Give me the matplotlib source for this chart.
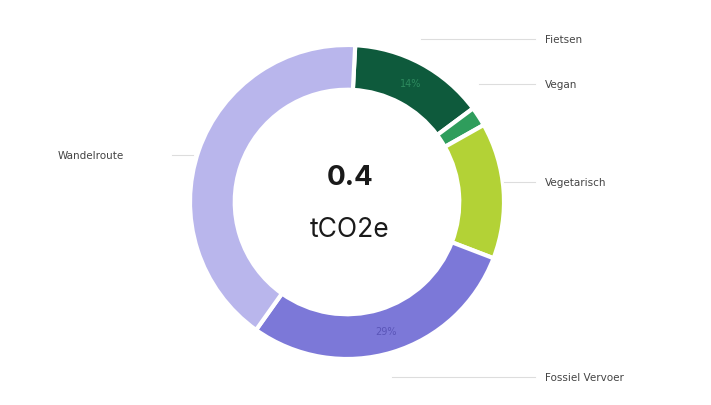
import matplotlib.pyplot as plt
import numpy as np

categories = ["Fietsen", "Vegan", "Vegetarisch", "Fossiel Vervoer", "Wandelroute"]
values = [14, 2, 14, 29, 41]
colors = ["#0e5a3c", "#2f9d5c", "#b3d236", "#7c78d8", "#b9b6ec"]
total_value = "0.4"
unit = "tCO2e"

fig = plt.figure(figsize=(7.11, 4.06), dpi=100)
ax = fig.add_axes([0, 0, 1, 1])

cx, cy, R = 347, 203, 157
wedges, _ = ax.pie(values, colors=colors, startangle=87, counterclock=False,
                   center=(cx, cy), radius=R, frame=True,
                   wedgeprops=dict(width=R * 0.285, edgecolor="white", linewidth=3))
ax.set_xlim(0, 711)
ax.set_ylim(0, 406)
ax.set_aspect("equal")
ax.axis("off")

def mid(w):
    return np.deg2rad((w.theta1 + w.theta2) / 2)

for i, col in [(0, "#2d8a5e"), (3, "#5a55b8")]:
    a = mid(wedges[i])
    r = R * 0.86
    ax.text(cx + r * np.cos(a), cy + r * np.sin(a), f"{values[i]}%",
            ha="center", va="center", fontsize=7, color=col)

label_pos = [(545, 366), (545, 321), (545, 223), (545, 28), (58, 250)]
for i, (lx, ly) in enumerate(label_pos):
    if lx > cx:
        a = mid(wedges[i])
        px = cx + R * np.cos(a)
        ax.plot([px, 535], [ly, ly], color="#dddddd", lw=0.8)
    else:
        ax.plot([172, 193], [ly, ly], color="#dddddd", lw=0.8)
    ax.text(lx, ly, categories[i], ha="left", va="center", fontsize=7.5, color="#444444")

ax.text(cx + 3, 228, total_value, ha="center", va="center", fontsize=20,
        fontweight="bold", color="#1a1a1a", family="Inter")
ax.text(cx + 3, 176, unit, ha="center", va="center", fontsize=19,
        color="#1a1a1a", family="Inter")

fig.savefig("out.png", dpi=100, facecolor="white")
